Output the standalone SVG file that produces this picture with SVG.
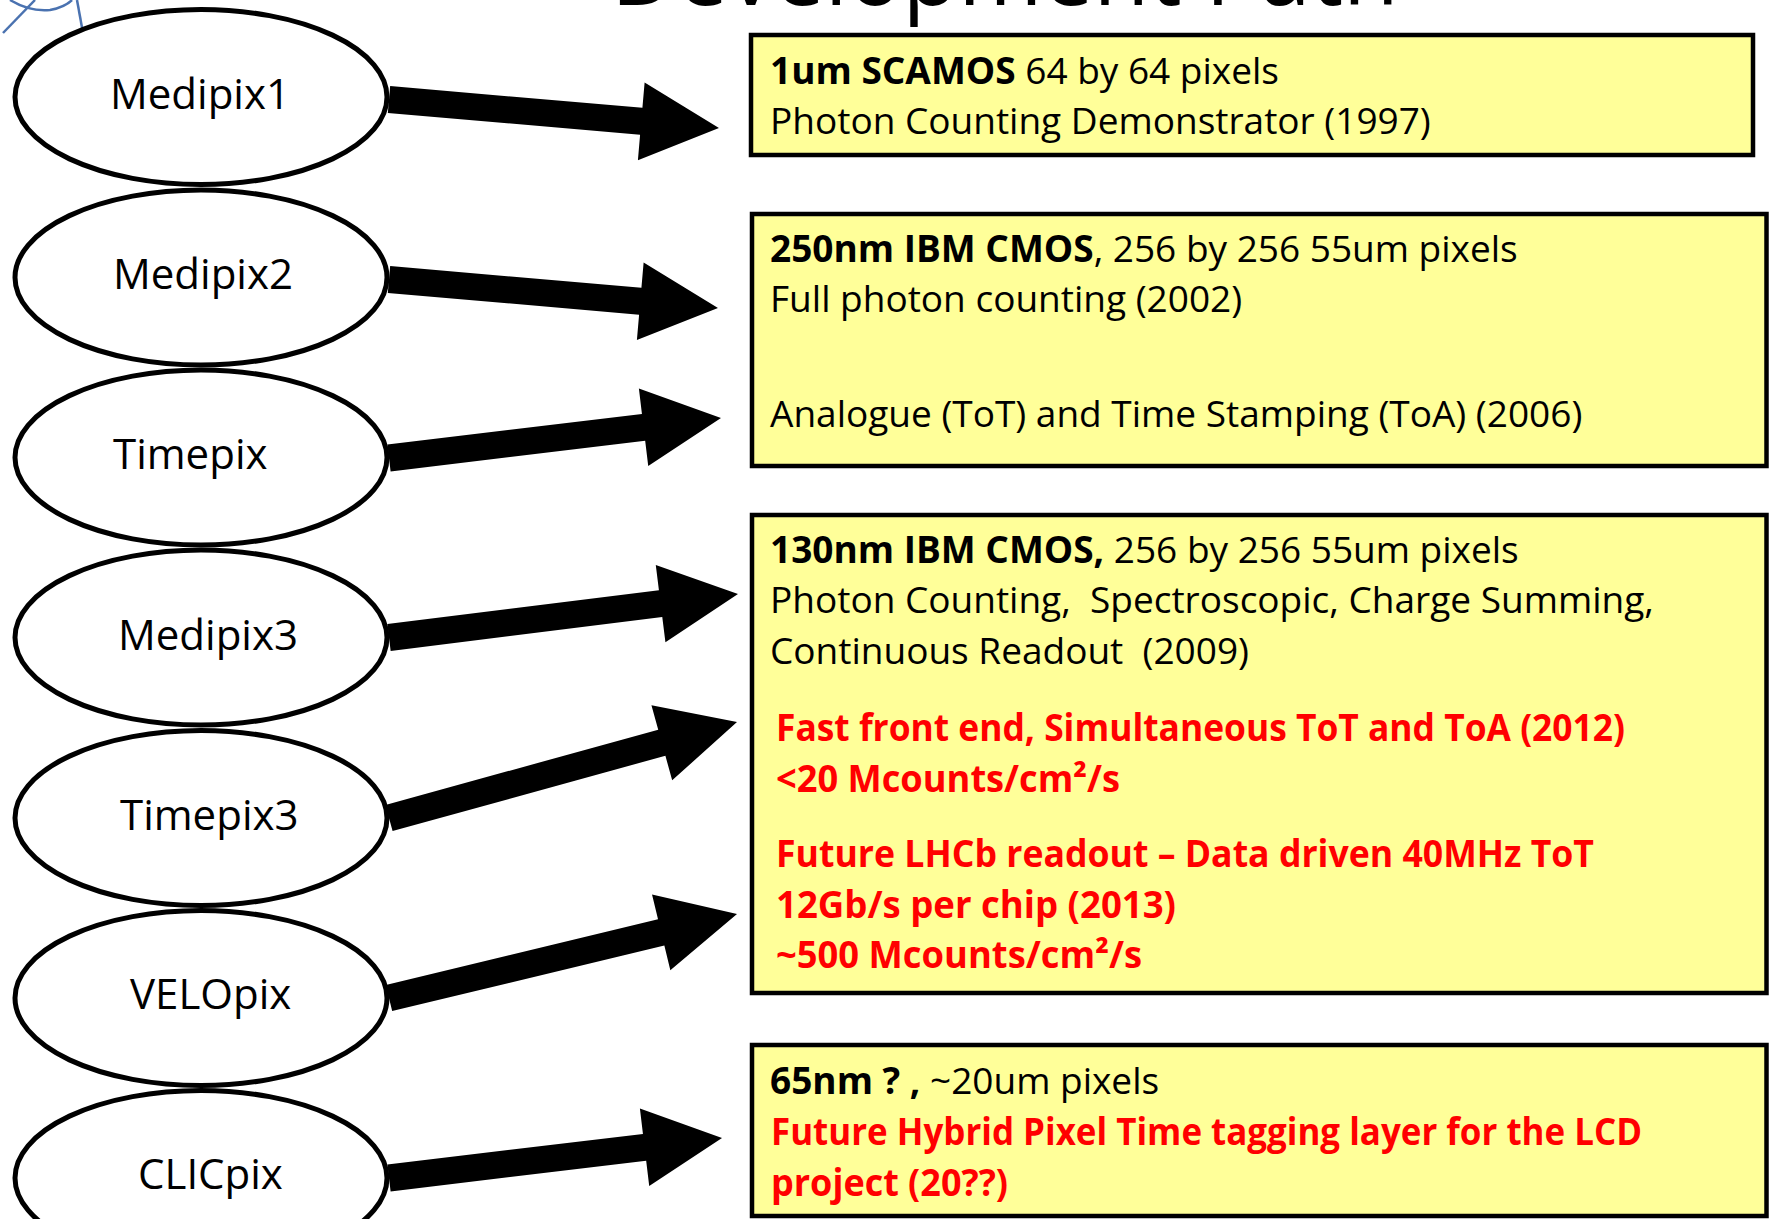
<svg xmlns="http://www.w3.org/2000/svg" width="1772" height="1219" viewBox="0 0 1772 1219">
<style>
.node ellipse{fill:#fff;stroke:#000;stroke-width:5}
.lbl{font-family:"Open Sans","Liberation Sans",sans-serif;font-size:42px;fill:#000}
.box rect{fill:#FFFF99;stroke:#000;stroke-width:4.5}
.t{font-family:"Open Sans","Liberation Sans",sans-serif;font-size:37px;fill:#000}
.b{font-weight:bold}
.r{fill:#FF0000;font-weight:bold}
.arrows polygon{fill:#000}
.title{font-family:"Open Sans","Liberation Sans",sans-serif;font-size:91px;fill:#000}
</style>
<g id="logo" fill="none" stroke="#4A72B0" stroke-width="2.5">
<path d="M10,0 Q30,12 50,10 Q65,7 72,0"/>
<line x1="3" y1="33" x2="35" y2="0"/>
<line x1="77" y1="0" x2="83" y2="33"/>
</g>
<text class="title" x="1005" y="5" text-anchor="middle">Development Path</text>
<g id="n-medipix1" class="node"><ellipse cx="201" cy="97" rx="186" ry="87.5"/><text class="lbl" x="110" y="109">Medipix1</text></g>
<g id="n-medipix2" class="node"><ellipse cx="201" cy="277.5" rx="186" ry="87.5"/><text class="lbl" x="113" y="289">Medipix2</text></g>
<g id="n-timepix" class="node"><ellipse cx="201" cy="457.5" rx="186" ry="87.5"/><text class="lbl" x="113" y="469">Timepix</text></g>
<g id="n-medipix3" class="node"><ellipse cx="201" cy="637.5" rx="186" ry="87.5"/><text class="lbl" x="118" y="650">Medipix3</text></g>
<g id="n-timepix3" class="node"><ellipse cx="201" cy="818" rx="186" ry="87.5"/><text class="lbl" x="120" y="830">Timepix3</text></g>
<g id="n-velopix" class="node"><ellipse cx="201" cy="998" rx="186" ry="87.5"/><text class="lbl" x="130" y="1009">VELOpix</text></g>
<g id="n-clicpix" class="node"><ellipse cx="201" cy="1178" rx="186" ry="87.5"/><text class="lbl" x="138" y="1189">CLICpix</text></g>
<g id="connectors" class="arrows">
<polygon transform="translate(389,99.5) rotate(4.936)" points="0,-13.5 253.2,-13.5 253.2,-39 331.2,0 253.2,39 253.2,13.5 0,13.5"/>
<polygon transform="translate(389,279.5) rotate(4.951)" points="0,-13.5 252.2,-13.5 252.2,-39 330.2,0 252.2,39 252.2,13.5 0,13.5"/>
<polygon transform="translate(389,458) rotate(-6.870)" points="0,-13.5 256.4,-13.5 256.4,-39 334.4,0 256.4,39 256.4,13.5 0,13.5"/>
<polygon transform="translate(389,637.5) rotate(-7.105)" points="0,-13.5 273.7,-13.5 273.7,-39 351.7,0 273.7,39 273.7,13.5 0,13.5"/>
<polygon transform="translate(389,818) rotate(-15.422)" points="0,-13.5 283,-13.5 283,-39 361,0 283,39 283,13.5 0,13.5"/>
<polygon transform="translate(389,998) rotate(-13.570)" points="0,-13.5 280,-13.5 280,-39 358,0 280,39 280,13.5 0,13.5"/>
<polygon transform="translate(389,1178) rotate(-6.850)" points="0,-13.5 257.4,-13.5 257.4,-39 335.4,0 257.4,39 257.4,13.5 0,13.5"/>
</g>
<g id="box-1" class="box">
<rect x="751" y="35" width="1002" height="120"/>
<text class="t" x="770" y="84"><tspan class="b">1um SCAMOS</tspan> 64 by 64 pixels</text>
<text class="t" x="770" y="134">Photon Counting Demonstrator (1997)</text>
</g>
<g id="box-2" class="box">
<rect x="752" y="214" width="1014.5" height="252"/>
<text class="t" x="770" y="262"><tspan class="b">250nm IBM CMOS</tspan>, 256 by 256 55um pixels</text>
<text class="t" x="770" y="312">Full photon counting (2002)</text>
<text class="t" x="770" y="427">Analogue (ToT) and Time Stamping (ToA) (2006)</text>
</g>
<g id="box-3" class="box">
<rect x="752" y="515" width="1014.5" height="478"/>
<text class="t" x="770" y="563"><tspan class="b">130nm IBM CMOS,</tspan> 256 by 256 55um pixels</text>
<text class="t" x="770" y="613" xml:space="preserve">Photon Counting,  Spectroscopic, Charge Summing,</text>
<text class="t" x="770" y="664" xml:space="preserve">Continuous Readout  (2009)</text>
<text class="t r" x="776" y="741" textLength="849" lengthAdjust="spacingAndGlyphs">Fast front end, Simultaneous ToT and ToA (2012)</text>
<text class="t r" x="776" y="792" textLength="344" lengthAdjust="spacingAndGlyphs">&lt;20 Mcounts/cm²/s</text>
<text class="t r" x="776" y="867" textLength="818" lengthAdjust="spacingAndGlyphs">Future LHCb readout – Data driven 40MHz ToT</text>
<text class="t r" x="776" y="918" textLength="400" lengthAdjust="spacingAndGlyphs">12Gb/s per chip (2013)</text>
<text class="t r" x="776" y="968" textLength="366" lengthAdjust="spacingAndGlyphs">~500 Mcounts/cm²/s</text>
</g>
<g id="box-4" class="box">
<rect x="752" y="1045" width="1014.5" height="171"/>
<text class="t" x="770" y="1094"><tspan class="b">65nm ? ,</tspan> ~20um pixels</text>
<text class="t r" x="771" y="1145" textLength="871" lengthAdjust="spacingAndGlyphs">Future Hybrid Pixel Time tagging layer for the LCD</text>
<text class="t r" x="771" y="1196" textLength="237" lengthAdjust="spacingAndGlyphs">project (20??)</text>
</g>
</svg>
